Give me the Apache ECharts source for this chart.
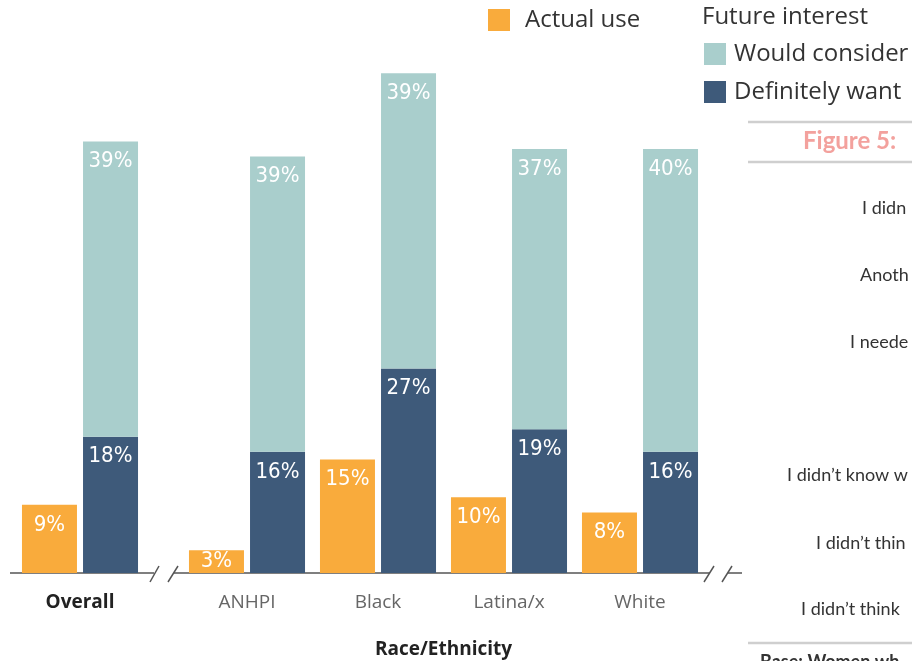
<!DOCTYPE html>
<html>
<head>
<meta charset="utf-8">
<script src="https://cdn.jsdelivr.net/npm/echarts@6/dist/echarts.min.js"></script>
<style>html,body{margin:0;padding:0;background:#fff;}#c{width:912px;height:661px;}</style>
</head>
<body>
<div id="c"></div>
<script>
const categories = ['Overall', 'ANHPI', 'Black', 'Latina/x', 'White'];
const actualUse = [9, 3, 15, 10, 8];
const definitelyWant = [18, 16, 27, 19, 16];
const wouldConsider = [39, 39, 39, 37, 40];
const sideLabels = ['I didn', 'Anoth', 'I neede', 'I didn’t know w', 'I didn’t thin', 'I didn’t think'];

const C_ACT = '#F9AB3C', C_WOULD = '#A9CECC', C_DEF = '#3E5A7A';
const barFont = '"Liberation Sans Narrow", "DejaVu Sans Condensed", sans-serif';
const uiFont = '"Open Sans", sans-serif';
const sideFont = 'Lato, sans-serif';

function labelCfg(d) {
  return { show: true, position: 'insideTop', distance: d, color: '#fff', fontFamily: barFont, fontSize: 22, formatter: '{c}%' };
}
function mk(arr, idxs) {
  return idxs.map(i => ({ value: arr[i], label: arr[i] < 5 ? { distance: 0 } : undefined }));
}
const groups = [[0], [1, 2, 3, 4]];
const series = [];
groups.forEach((idxs, g) => {
  series.push({ name: 'Actual use', type: 'bar', xAxisIndex: g, yAxisIndex: g, stack: 'a' + g, barWidth: 55, barGap: '11%', itemStyle: { color: C_ACT }, label: labelCfg(9), data: mk(actualUse, idxs) });
  series.push({ name: 'Definitely want', type: 'bar', xAxisIndex: g, yAxisIndex: g, stack: 'b' + g, barWidth: 55, barGap: '11%', itemStyle: { color: C_DEF }, label: labelCfg(9), data: mk(definitelyWant, idxs) });
  series.push({ name: 'Would consider', type: 'bar', xAxisIndex: g, yAxisIndex: g, stack: 'b' + g, barWidth: 55, barGap: '11%', itemStyle: { color: C_WOULD }, label: labelCfg(9), data: mk(wouldConsider, idxs) });
});

const axisLabelBase = { margin: 20, fontFamily: uiFont, fontSize: 19 };
const ln = (x1, y1, x2, y2, color, w) => ({ type: 'line', shape: { x1, y1, x2, y2 }, style: { stroke: color, lineWidth: w } });
const sideYs = [210, 277, 344, 477, 545, 611];
const sideXs = [862, 860, 850, 787, 816, 801];

const graphic = [
  ln(10, 573, 154, 573, '#555', 1.5),
  ln(174, 573, 710, 573, '#555', 1.5),
  ln(728, 573, 742, 573, '#555', 1.5),
  ln(150, 582, 159, 566, '#555', 1.5),
  ln(168, 582, 178, 566, '#555', 1.5),
  ln(704, 582, 714, 566, '#555', 1.5),
  ln(722, 582, 732, 566, '#555', 1.5),
  { type: 'text', left: 702, top: 5, style: { text: 'Future interest', fontFamily: uiFont, fontSize: 24, fill: '#333' } },
  ln(748, 122, 912, 122, '#cfcfcf', 2.5),
  ln(748, 162, 912, 162, '#cfcfcf', 2.5),
  ln(748, 643, 912, 643, '#cfcfcf', 2.5),
  { type: 'text', left: 803, top: 129, style: { text: 'Figure 5:', fontFamily: sideFont, fontWeight: 'bold', fontSize: 24, fill: '#F3A19D' } },
  { type: 'text', left: 760, top: 653, style: { text: 'Base: Women wh', fontFamily: sideFont, fontWeight: 'bold', fontSize: 18, fill: '#333' } }
];
sideLabels.forEach((t, i) => {
  graphic.push({ type: 'text', left: sideXs[i], top: sideYs[i] - 11, style: { text: t, fontFamily: sideFont, fontSize: 18, fill: '#333' } });
});

const option = {
  animation: false,
  backgroundColor: '#fff',
  legend: [
    { data: ['Actual use'], left: 488, top: 8, padding: 0, itemWidth: 22, itemHeight: 22, icon: 'rect', selectedMode: false,
      textStyle: { fontFamily: uiFont, fontSize: 24, color: '#333', padding: [0, 0, 0, 10] } },
    { data: ['Would consider', 'Definitely want'], orient: 'vertical', left: 704, top: 42, padding: 0, itemWidth: 22, itemHeight: 22, itemGap: 14, icon: 'rect', selectedMode: false,
      textStyle: { fontFamily: uiFont, fontSize: 24, color: '#333', padding: [0, 0, 0, 3] } }
  ],
  grid: [
    { left: 10, top: 43, width: 140, bottom: 88, outerBoundsMode: 'none', containLabel: false },
    { left: 181.5, top: 43, width: 524, bottom: 88, outerBoundsMode: 'none', containLabel: false }
  ],
  xAxis: [
    { type: 'category', gridIndex: 0, data: categories.slice(0, 1), axisLine: { show: false }, axisTick: { show: false },
      axisLabel: Object.assign({}, axisLabelBase, { fontWeight: 'bold', color: '#222' }) },
    { type: 'category', gridIndex: 1, data: categories.slice(1), axisLine: { show: false }, axisTick: { show: false },
      axisLabel: Object.assign({}, axisLabelBase, { color: '#666' }),
      name: 'Race/Ethnicity', nameLocation: 'middle', nameGap: 67,
      nameTextStyle: { fontFamily: uiFont, fontSize: 19, fontWeight: 'bold', color: '#222' } }
  ],
  yAxis: [
    { type: 'value', gridIndex: 0, min: 0, max: 70, show: false },
    { type: 'value', gridIndex: 1, min: 0, max: 70, show: false }
  ],
  series,
  graphic
};
echarts.init(document.getElementById('c')).setOption(option);
</script>
</body>
</html>
